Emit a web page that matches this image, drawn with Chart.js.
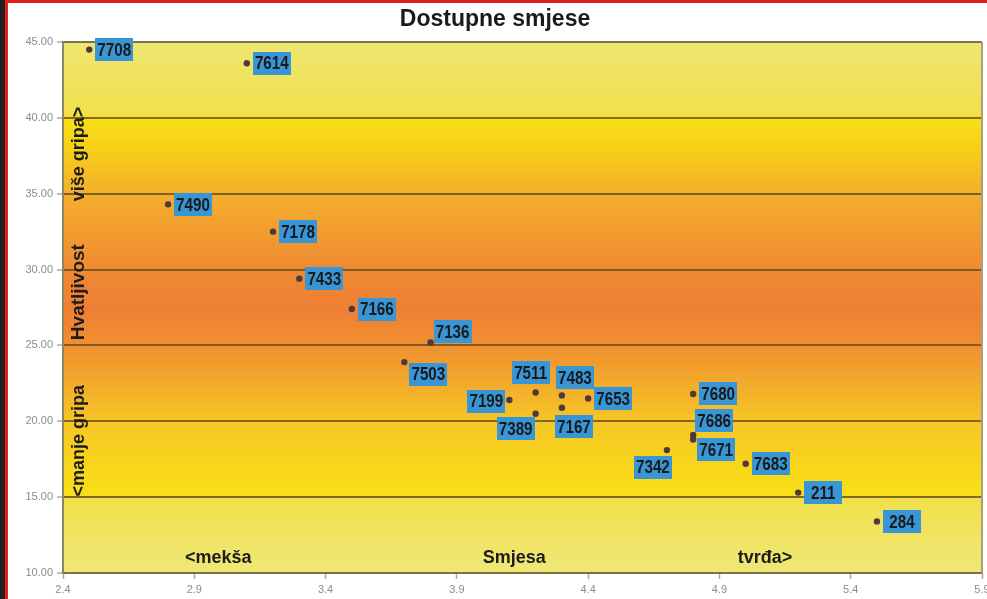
<!DOCTYPE html>
<html>
<head>
<meta charset="utf-8">
<script src="https://cdn.jsdelivr.net/npm/chart.js@4.4.0/dist/chart.umd.min.js"></script>
<style>
	html, body { margin: 0; padding: 0; background: #fff; }
	#wrap { width: 987px; height: 599px; }
</style>
</head>
<body>
<div id="wrap"><canvas id="grip-chart"></canvas></div>
<script>
// compound codes and their (smjesa, hvatljivost) readings
var codes = ["7708", "7614", "7490", "7178", "7433", "7166", "7136", "7503", "7199", "7511",
	"7389", "7483", "7167", "7653", "7680", "7686", "7671", "7342", "7683", "211", "284"];
var hardness = [2.50, 3.10, 2.80, 3.20, 3.30, 3.50, 3.80, 3.70, 4.10, 4.20,
	4.20, 4.30, 4.30, 4.40, 4.80, 4.80, 4.80, 4.70, 5.00, 5.20, 5.50];
var grip = [44.5, 43.6, 34.3, 32.5, 29.4, 27.4, 25.2, 23.9, 21.4, 21.9,
	20.5, 21.7, 20.9, 21.5, 21.8, 19.1, 18.8, 18.1, 17.2, 15.3, 13.4];

var xTicks = [2.4, 2.9, 3.4, 3.9, 4.4, 4.9, 5.4, 5.9];
var yTicks = [10, 15, 20, 25, 30, 35, 40, 45];

// where each blue box sits relative to its dot (box centre offset, px)
var labelDx = [25, 25, 25, 25, 25, 25, 22, 24, -23, -5, -20, 13, 12, 25, 25, 21, 23, -14, 25, 25, 25];
var labelDy = [0, 0, 0, 0, 0, 0, -11, 12, 1, -20, 15, -18, 19, 0, 0, -14, 10, 17, 0, 0, 0];

var points = [];
for (var i = 0; i < codes.length; i++) {
	points.push({ x: hardness[i], y: grip[i] });
}

var bgPlugin = {
	id: "bg",
	beforeDraw: function (chart) {
		var c = chart.ctx, a = chart.chartArea;
		c.save();
		c.fillStyle = "#ffffff";
		c.fillRect(0, 0, chart.width, chart.height);
		var g = c.createLinearGradient(0, a.top, 0, a.bottom);
		g.addColorStop(0, "#efe672");
		g.addColorStop(0.135, "#f1df4c");
		g.addColorStop(0.145, "#f8df16");
		g.addColorStop(0.2, "#f7cf18");
		g.addColorStop(0.286, "#f4ae2c");
		g.addColorStop(0.43, "#ef8a32");
		g.addColorStop(0.5, "#ee7f34");
		g.addColorStop(0.571, "#f08f30");
		g.addColorStop(0.714, "#f6c626");
		g.addColorStop(0.85, "#f8df16");
		g.addColorStop(0.862, "#f1e04c");
		g.addColorStop(1, "#efe878");
		c.fillStyle = g;
		c.fillRect(a.left, a.top, a.right - a.left, a.bottom - a.top);
		c.restore();
	},
	beforeDatasetsDraw: function (chart) {
		var c = chart.ctx, a = chart.chartArea;
		var w = a.right - a.left, h = a.bottom - a.top;
		c.save();
		// right frame edge
		c.strokeStyle = "#a8a080";
		c.lineWidth = 2;
		c.beginPath();
		c.moveTo(a.right, a.top);
		c.lineTo(a.right, a.bottom);
		c.stroke();

		c.fillStyle = "#1c1c1c";
		c.font = "bold 18px 'Liberation Sans', Arial, sans-serif";
		c.textAlign = "center";
		c.textBaseline = "middle";
		c.fillText("<mekša", a.left + w * 0.169, a.bottom - 15);
		c.fillText("Smjesa", a.left + w * 0.491, a.bottom - 15);
		c.fillText("tvrđa>", a.left + w * 0.764, a.bottom - 15);

		var side = [["više gripa>", 0.211, 18], ["Hvatljivost", 0.471, 19], ["<manje gripa", 0.751, 18]];
		for (var k = 0; k < side.length; k++) {
			c.save();
			c.font = "bold " + side[k][2] + "px 'Liberation Sans', Arial, sans-serif";
			c.translate(a.left + 16, a.top + h * side[k][1]);
			c.rotate(-Math.PI / 2);
			c.fillText(side[k][0], 0, 0);
			c.restore();
		}
		c.restore();
	},
	afterDatasetsDraw: function (chart) {
		var c = chart.ctx;
		var meta = chart.getDatasetMeta(0);
		c.save();
		c.font = "bold 19px 'Liberation Sans', Arial, sans-serif";
		c.textAlign = "center";
		c.textBaseline = "middle";
		for (var i = 0; i < meta.data.length; i++) {
			var p = meta.data[i];
			var cx = p.x + labelDx[i], cy = p.y + labelDy[i];
			c.fillStyle = "#3896d6";
			c.fillRect(Math.round(cx - 19), Math.round(cy - 11.5), 38, 23);
			// condensed look like the print version
			c.save();
			c.translate(cx, cy + 1);
			c.scale(0.8, 1);
			c.fillStyle = "#1a1a1a";
			c.fillText(codes[i], 0, 0);
			c.restore();
		}
		c.restore();
	},
	afterDraw: function (chart) {
		var c = chart.ctx;
		c.save();
		c.fillStyle = "#e3201f";
		c.fillRect(0, 0, chart.width, 3);
		c.fillStyle = "#231f20";
		c.fillRect(0, 0, 5, chart.height);
		c.fillStyle = "#e3201f";
		c.fillRect(5, 0, 3, chart.height);
		c.restore();
	}
};

var ctx = document.getElementById("grip-chart");

var chart = new Chart(ctx, {
	type: "scatter",
	data: {
		datasets: [
			{
				label: "Smjese",
				data: points,
				pointRadius: 3.2,
				pointHoverRadius: 3.2,
				backgroundColor: "#4e3a3a",
				borderWidth: 0
			}
		]
	},
	options: {
		responsive: true,
		maintainAspectRatio: false,
		animation: false,
		events: [],
		layout: {
			padding: { left: 8, right: 5, top: 0, bottom: 0 }
		},
		plugins: {
			legend: { display: false },
			tooltip: { enabled: false },
			title: {
				display: true,
				text: "Dostupne smjese",
				color: "#1a1a1a",
				font: { family: "'Liberation Sans', Arial, sans-serif", size: 23, weight: "bold" },
				padding: { top: 6, bottom: 8.4 }
			}
		},
		scales: {
			x: {
				type: "linear",
				min: 2.4,
				max: 5.9,
				afterBuildTicks: function (scale) {
					scale.ticks = xTicks.map(function (v) { return { value: v }; });
				},
				afterFit: function (scale) {
					scale.height = 26;
					scale.paddingLeft = 0;
					scale.paddingRight = 0;
				},
				grid: {
					drawOnChartArea: false,
					drawTicks: true,
					tickLength: 6,
					tickColor: "#b0aa98",
					tickWidth: 1.5
				},
				border: { display: false },
				ticks: {
					color: "#8c8c8c",
					padding: 4,
					maxRotation: 0,
					autoSkip: false,
					font: { family: "'Liberation Sans', Arial, sans-serif", size: 11 },
					callback: function (v) { return Number(v).toFixed(1); }
				}
			},
			y: {
				type: "linear",
				min: 10,
				max: 45,
				afterBuildTicks: function (scale) {
					scale.ticks = yTicks.map(function (v) { return { value: v }; });
				},
				afterFit: function (scale) {
					scale.width = 55;
					scale.paddingTop = 0;
					scale.paddingBottom = 0;
				},
				grid: {
					color: "rgba(95, 75, 30, 0.78)",
					lineWidth: 2,
					drawTicks: true,
					tickLength: 6,
					tickColor: "#b0aa98",
					tickWidth: 1.5
				},
				border: { display: true, color: "#8d8466", width: 2 },
				ticks: {
					color: "#8c8c8c",
					padding: 4,
					autoSkip: false,
					font: { family: "'Liberation Sans', Arial, sans-serif", size: 11 },
					callback: function (v) { return Number(v).toFixed(2); }
				}
			}
		}
	},
	plugins: [bgPlugin]
});
</script>
</body>
</html>
